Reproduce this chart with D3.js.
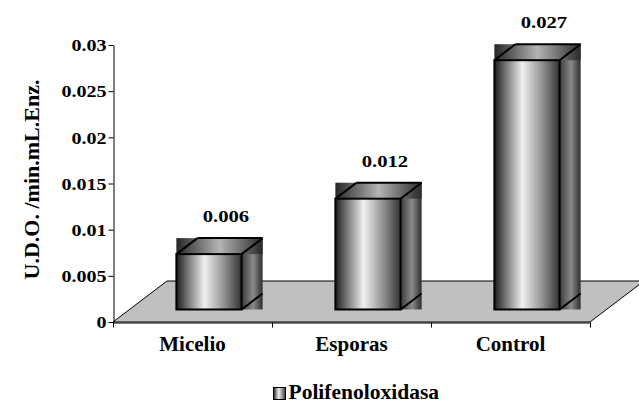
<!DOCTYPE html>
<html>
<head>
<meta charset="utf-8">
<script src="https://cdn.jsdelivr.net/npm/d3@7"></script>
<style>
  html, body { margin: 0; padding: 0; background: #fff; }
  svg { display: block; }
</style>
</head>
<body>
<svg id="chart" width="639" height="403"></svg>
<script>
// Enzyme activity by sample type
const categories = ["Micelio", "Esporas", "Control"];
const values = [0.006, 0.012, 0.027];
const valueLabels = ["0.006", "0.012", "0.027"];
const tickValues = [0, 0.005, 0.01, 0.015, 0.02, 0.025, 0.03];
const tickLabels = ["0", "0.005", "0.01", "0.015", "0.02", "0.025", "0.03"];
const seriesName = "Polifenoloxidasa";
const yTitle = "U.D.O. /min.mL.Enz.";

const FONT = "'Liberation Serif', 'DejaVu Serif', 'Times New Roman', Times, serif";
const svg = d3.select("#chart");

function serif(sel, size) {
  return sel.attr("font-family", FONT).attr("font-weight", "bold")
    .attr("font-size", size).attr("fill", "#000");
}

// Plot frame: front plane of the floor plus an oblique depth vector
const plotLeft = 113, plotRight = 590, plotBase = 322, plotTop = 45;
const depth = { dx: 54, dy: -41 };          // full floor depth
const barDepthFrac = 0.39;                  // bar depth as a share of floor depth
const barFrontFrac = (1 - barDepthFrac) / 2; // bar sits mid-depth
const barWidthFrac = 0.41;
const numScale = 1.18;                      // wide numerals

const x = d3.scaleBand().domain(categories).range([plotLeft, plotRight]).padding(0);
const y = d3.scaleLinear().domain([0, 0.03]).range([plotBase, plotTop]);

// Gradients
const defs = svg.append("defs");
function grad(id, stops) {
  const g = defs.append("linearGradient").attr("id", id)
    .attr("x1", 0).attr("x2", 1).attr("y1", 0).attr("y2", 0);
  stops.forEach(([o, c]) => g.append("stop").attr("offset", o).attr("stop-color", c));
}
grad("gFront", [[0, "#1c1c1c"], [0.12, "#5a5a5a"], [0.43, "#f0f0f0"], [0.75, "#8c8c8c"], [1, "#333"]]);
grad("gSide", [[0, "#3a3a3a"], [0.55, "#8a8a8a"], [1, "#2e2e2e"]]);
grad("gTop", [[0, "#262626"], [0.5, "#b4b4b4"], [1, "#2a2a2a"]]);

// Floor
const floorPts = [
  [plotLeft, plotBase],
  [plotLeft + depth.dx, plotBase + depth.dy],
  [plotRight + depth.dx, plotBase + depth.dy],
  [plotRight, plotBase]
];
svg.append("polygon")
  .attr("points", floorPts.map(p => p.join(",")).join(" "))
  .attr("fill", "#c0c0c0").attr("stroke", "#000").attr("stroke-width", 1);

// Axes
const yAxis = d3.axisLeft(y).tickValues(tickValues).tickSize(5).tickSizeOuter(0)
  .tickFormat((d, i) => tickLabels[i]);
const gy = svg.append("g").attr("transform", `translate(${plotLeft + 0.5},0)`).call(yAxis);
serif(gy, 17);
gy.select(".domain").attr("stroke", "#000");
gy.selectAll(".tick line").attr("stroke", "#000");
gy.selectAll(".tick text")
  .attr("x", -7 / numScale).attr("dy", "0.34em")
  .attr("transform", `scale(${numScale},1)`);

const xAxis = d3.axisBottom(x).tickSize(0).tickFormat("");
const gx = svg.append("g").attr("transform", `translate(0,${plotBase + 0.5})`).call(xAxis);
gx.select(".domain").attr("stroke", "#000");
gx.selectAll(".tick").remove();
// boundary ticks between categories
const bounds = categories.map(c => x(c)).concat([x(categories[categories.length - 1]) + x.bandwidth()]);
gx.selectAll("line.bound").data(bounds).enter().append("line")
  .attr("class", "bound")
  .attr("x1", d => Math.round(d) + 0.5).attr("x2", d => Math.round(d) + 0.5)
  .attr("y1", 0).attr("y2", 5).attr("stroke", "#000");

// Bars
const bw = x.bandwidth() * barWidthFrac;
const bdx = depth.dx * barDepthFrac, bdy = depth.dy * barDepthFrac;
const ox = depth.dx * barFrontFrac, oy = depth.dy * barFrontFrac;

const bars = svg.append("g").selectAll("g").data(categories).enter().append("g");
bars.each(function (c, i) {
  const g = d3.select(this);
  const xl = x(c) + (x.bandwidth() - bw) / 2 + ox;
  const xr = xl + bw;
  const yb = y(0) + oy;
  const yt = y(values[i]) + oy;

  // side face (bounding fill)
  g.append("rect").attr("x", xr).attr("y", yt + bdy)
    .attr("width", bdx).attr("height", yb - (yt + bdy)).attr("fill", "url(#gSide)");
  // top face (bounding fill)
  g.append("rect").attr("x", xl).attr("y", yt + bdy)
    .attr("width", xr + bdx - xl).attr("height", -bdy).attr("fill", "url(#gTop)");
  // front face
  g.append("rect").attr("x", xl).attr("y", yt)
    .attr("width", bw).attr("height", yb - yt)
    .attr("fill", "url(#gFront)").attr("stroke", "#000").attr("stroke-width", 2);
  // edges
  const edge = (a, b) => g.append("line")
    .attr("x1", a[0]).attr("y1", a[1]).attr("x2", b[0]).attr("y2", b[1])
    .attr("stroke", "#000").attr("stroke-width", 2);
  edge([xl, yt], [xl + bdx, yt + bdy]);
  edge([xl + bdx, yt + bdy], [xr + bdx, yt + bdy]);
  edge([xr, yt], [xr + bdx, yt + bdy]);
  edge([xr, yb], [xr + bdx, yb + bdy]);

  // value label
  serif(g.append("text"), 17.5)
    .attr("transform", `translate(${(xl + xr) / 2 + 17},${yt + bdy - 16}) scale(${numScale},1)`)
    .attr("text-anchor", "middle")
    .text(valueLabels[i]);
});

// Category labels
serif(svg.append("g"), 21).selectAll("text").data(categories).enter().append("text")
  .attr("x", d => x(d) + x.bandwidth() / 2)
  .attr("y", 351)
  .attr("text-anchor", "middle")
  .text(d => d);

// Y axis title
serif(svg.append("text"), 22)
  .attr("transform", "translate(38.5,179.5) rotate(-90)")
  .attr("text-anchor", "middle")
  .text(yTitle);

// Legend
const legend = svg.append("g").attr("transform", "translate(273.5,387.5)");
legend.append("rect").attr("width", 12).attr("height", 12)
  .attr("fill", "url(#gFront)").attr("stroke", "#000").attr("stroke-width", 1);
serif(legend.append("text"), 21.5).attr("x", 15).attr("y", 11.5)
  .text(seriesName);
</script>
</body>
</html>
